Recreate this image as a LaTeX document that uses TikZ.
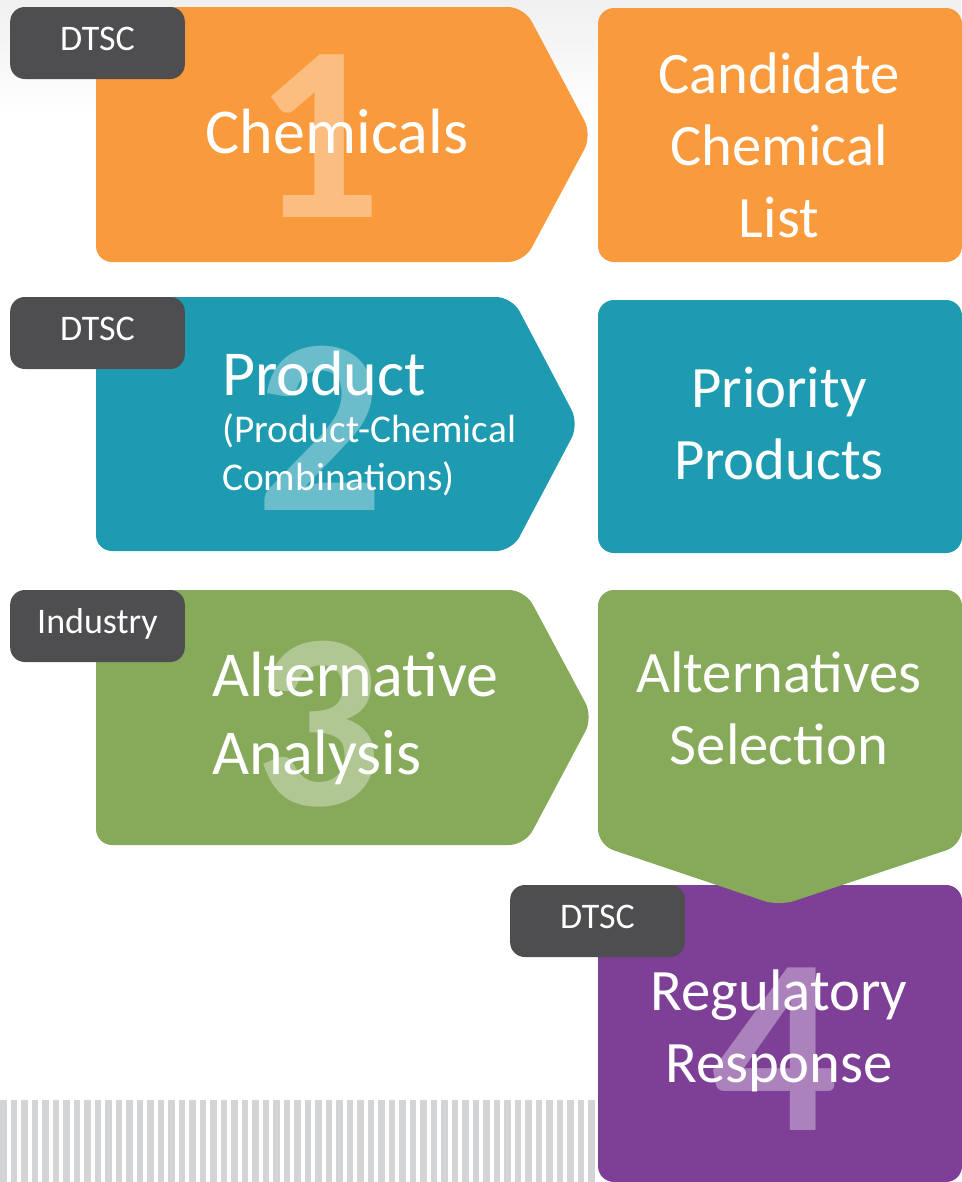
\documentclass[tikz,border=0pt]{standalone}
\usepackage{fontspec}
\setmainfont{Carlito}
\usetikzlibrary{positioning}
\definecolor{chemorange}{HTML}{F99A3C}
\definecolor{prodteal}{HTML}{1E9BB1}
\definecolor{altgreen}{HTML}{86A95A}
\definecolor{regpurple}{HTML}{7E3F97}
\definecolor{taggray}{HTML}{4E4E50}
\definecolor{stripegray}{HTML}{D3D4D6}

\begin{document}
\begin{tikzpicture}[x=0.75pt, y=-0.75pt,
  tag/.style={fill=taggray, rounded corners=11pt, text=white, minimum width=131pt, minimum height=54pt,
    inner sep=0pt, text height=17.4pt, text depth=6.7pt, font=\fontsize{27}{32}\selectfont},
  bignum/.style={text=white, text opacity=0.35, inner sep=0pt, anchor=base,
    font=\fontsize{188}{188}\selectfont\bfseries},
  title/.style={text=white, inner sep=0pt, anchor=base, font=\fontsize{48}{60}\selectfont},
  result/.style={text=white, inner sep=0pt, anchor=base, align=center, font=\fontsize{44}{54}\selectfont},
  roundbox/.style={rounded corners=12pt}]
\useasboundingbox (0,0) rectangle (961,1182);
\shade[top color=black!6, bottom color=white] (0,0) rectangle (961,115);
\foreach \i in {0,...,56}
  \fill[stripegray] (\i*10.5,1100) rectangle ++(6.5,82);

% step 1
\fill[chemorange, roundbox] (96,7) -- (524,7) -- (592,135) -- (524,262) -- (96,262) -- cycle;
\fill[chemorange, roundbox] (598,8) rectangle (962,262);
\node[bignum] (num1) at (318,217) {1};
\node[title] (chem) at (337,153) {Chemicals};
\node[result] (cand) at (779,237) {Candidate\\Chemical\\List};
\node[tag] (tag1) at (97.5,43) {DTSC};

% step 2
\fill[prodteal, roundbox] (96,297) -- (512,297) -- (579,424) -- (512,551) -- (96,551) -- cycle;
\fill[prodteal, roundbox] (598,300) rectangle (962,553);
\node[bignum] (num2) at (320,510) {2};
\node[title, anchor=base west] (prod) at (222,395) {Product};
\node[text=white, inner sep=0pt, anchor=base west, align=left, font=\fontsize{29.5}{35.5}\selectfont]
  (prodsub) at (222,490) {(Product-Chemical\\Combinations)};
\node[result] (prio) at (779,479) {Priority\\Products};
\node[tag] (tag2) at (97.5,333) {DTSC};

% step 3
\fill[altgreen, roundbox] (96,590) -- (525,590) -- (593,717) -- (525,845) -- (96,845) -- cycle;
\fill[regpurple, roundbox] (598,885) rectangle (962,1182);
\fill[altgreen, roundbox] (598,590) -- (962,590) -- (962,845) -- (779,906) -- (598,845) -- cycle;
\node[bignum] (num3) at (318,805) {3};
\node[title, anchor=base west, align=left, font=\fontsize{48}{58}\selectfont]
  (altan) at (212,774) {Alternative\\Analysis};
\node[result] (altsel) at (779,764) {Alternatives\\Selection};
\node[tag] (tag3) at (97.5,626) {Industry};

% step 4
\node[bignum] (num4) at (775,1130) {4};
\node[result] (regresp) at (779,1082) {Regulatory\\Response};
\node[tag] (tag4) at (597.5,921) {DTSC};
\end{tikzpicture}
\end{document}
